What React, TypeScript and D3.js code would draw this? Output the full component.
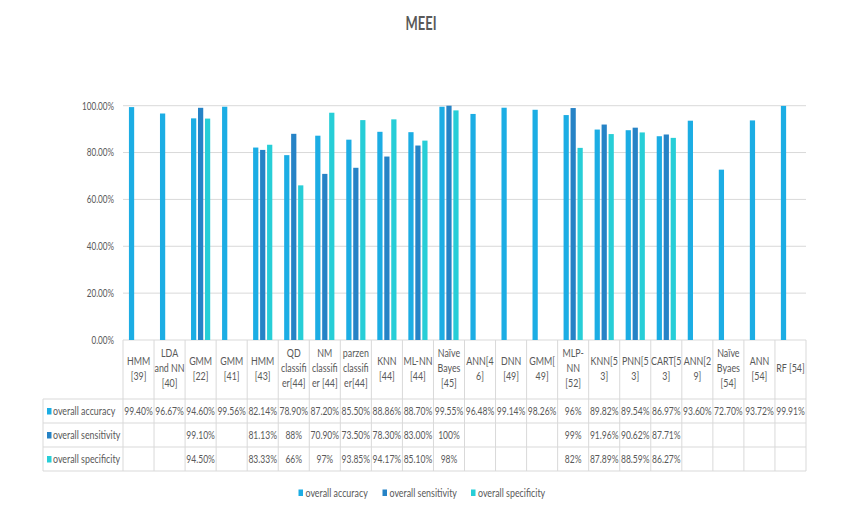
import React from 'react';
import * as d3 from 'd3';

// header text of each table column, one entry per line
const categories: string[][] = [
  ['HMM', '[39]'],
  ['LDA', 'and NN', '[40]'],
  ['GMM', '[22]'],
  ['GMM', '[41]'],
  ['HMM', '[43]'],
  ['QD', 'classifi', 'er[44]'],
  ['NM', 'classifi', 'er [44]'],
  ['parzen', 'classifi', 'er[44]'],
  ['KNN', '[44]'],
  ['ML-NN', '[44]'],
  ['Naïve', 'Bayes', '[45]'],
  ['ANN[4', '6]'],
  ['DNN', '[49]'],
  ['GMM[', '49]'],
  ['MLP-', 'NN', '[52]'],
  ['KNN[5', '3]'],
  ['PNN[5', '3]'],
  ['CART[5', '3]'],
  ['ANN[2', '9]'],
  ['Naïve', 'Byaes', '[54]'],
  ['ANN', '[54]'],
  ['RF [54]'],
];

const accuracy = [
  '99.40%', '96.67%', '94.60%', '99.56%', '82.14%', '78.90%', '87.20%', '85.50%', '88.86%', '88.70%', '99.55%',
  '96.48%', '99.14%', '98.26%', '96%', '89.82%', '89.54%', '86.97%', '93.60%', '72.70%', '93.72%', '99.91%',
];
const sensitivity = [
  '', '', '99.10%', '', '81.13%', '88%', '70.90%', '73.50%', '78.30%', '83.00%', '100%',
  '', '', '', '99%', '91.96%', '90.62%', '87.71%', '', '', '', '',
];
const specificity = [
  '', '', '94.50%', '', '83.33%', '66%', '97%', '93.85%', '94.17%', '85.10%', '98%',
  '', '', '', '82%', '87.89%', '88.59%', '86.27%', '', '', '', '',
];

const seriesNames = ['overall accuracy', 'overall sensitivity', 'overall specificity'];
const seriesColors = ['#1CADE4', '#2683C6', '#27CED7'];
const yTicks = [0, 0.2, 0.4, 0.6, 0.8, 1];

const FONT = "Lato, 'Open Sans', sans-serif";
const TEXT = '#595959';
const GRID = '#D9D9D9';
const SX = 0.74; // the source font is a narrow one

// narrow text: squeeze horizontally around the anchor point
const T: React.FC<{
  x: number;
  y: number;
  size: number;
  anchor?: 'start' | 'middle' | 'end';
  bold?: boolean;
  sx?: number;
  children: React.ReactNode;
}> = ({ x, y, size, anchor = 'start', bold, sx = SX, children }) => (
  <text
    transform={`translate(${x},${y}) scale(${sx},1)`}
    dy="0.35em"
    textAnchor={anchor}
    fontSize={size}
    fontWeight={bold ? 'bold' : 'normal'}
    fill={TEXT}
  >
    {children}
  </text>
);

const App: React.FC = () => {
  const width = 849;
  const height = 515;
  const left = 123;
  const right = 806;
  const top = 105.7;
  const bottom = 340;
  const headerBottom = 399;
  const rowH = 24;
  const labelLeft = 43;

  const series = [accuracy, sensitivity, specificity];
  const keys = categories.map((_, i) => String(i));

  const x = d3.scaleBand<string>().domain(keys).range([left, right]);
  const bw = x.bandwidth();
  const xSub = d3
    .scaleBand<string>()
    .domain(seriesNames)
    .range([0, bw])
    .paddingInner(0.25)
    .paddingOuter(0.85);
  const y = d3.scaleLinear().domain([0, 1]).range([bottom, top]);
  const fmt = d3.format('.2%');

  const tableBottom = headerBottom + rowH * 3;

  return (
    <svg
      width={width}
      height={height}
      style={{ position: 'absolute', left: 0, top: 0, background: '#fff' }}
      fontFamily={FONT}
    >
      <rect width={width} height={height} fill="#fff" />
      <T x={421} y={24} size={18} anchor="middle" bold sx={0.72}>
        MEEI
      </T>

      {/* gridlines + y axis labels */}
      {yTicks.map((t) => (
        <g key={t}>
          <line x1={left} x2={right} y1={y(t)} y2={y(t)} stroke={GRID} strokeWidth={1} />
          <T x={114} y={y(t)} size={11} anchor="end">
            {fmt(t)}
          </T>
        </g>
      ))}

      {/* bars */}
      {series.map((vals, s) =>
        vals.map((v, i) =>
          v === '' ? null : (
            <rect
              key={`${s}-${i}`}
              x={x(keys[i])! + xSub(seriesNames[s])!}
              y={y(parseFloat(v) / 100)}
              width={xSub.bandwidth()}
              height={bottom - y(parseFloat(v) / 100)}
              fill={seriesColors[s]}
            />
          )
        )
      )}

      {/* data table */}
      <g stroke={GRID} strokeWidth={1}>
        {keys.map((k) => (
          <line key={k} x1={x(k)!} x2={x(k)!} y1={bottom} y2={tableBottom} />
        ))}
        <line x1={right} x2={right} y1={bottom} y2={tableBottom} />
        <line x1={labelLeft} x2={labelLeft} y1={headerBottom} y2={tableBottom} />
        {[0, 1, 2, 3].map((r) => (
          <line
            key={r}
            x1={labelLeft}
            x2={right}
            y1={headerBottom + r * rowH}
            y2={headerBottom + r * rowH}
          />
        ))}
      </g>

      {categories.map((lines, i) => {
        const cx = x(keys[i])! + bw / 2;
        const lh = 15;
        const mid = (bottom + headerBottom) / 2 - 1.5;
        const start = mid - ((lines.length - 1) * lh) / 2;
        return (
          <g key={i}>
            {lines.map((ln, j) => (
              <T key={j} x={cx} y={start + j * lh} size={12} anchor="middle">
                {ln}
              </T>
            ))}
          </g>
        );
      })}

      {series.map((vals, s) => {
        const cy = headerBottom + s * rowH + rowH / 2;
        return (
          <g key={s}>
            <rect x={labelLeft + 4} y={cy - 3} width={4.5} height={6.5} fill={seriesColors[s]} />
            <T x={labelLeft + 10} y={cy} size={12}>
              {seriesNames[s]}
            </T>
            {vals.map((v, i) => (
              <T key={i} x={x(keys[i])! + bw / 2} y={cy} size={11.5} anchor="middle">
                {v}
              </T>
            ))}
          </g>
        );
      })}

      {/* legend */}
      {seriesNames.map((name, s) => {
        const lx = [298.5, 382.5, 471][s];
        return (
          <g key={name}>
            <rect x={lx} y={489.5} width={4.5} height={6.5} fill={seriesColors[s]} />
            <T x={lx + 7} y={492.5} size={12}>
              {name}
            </T>
          </g>
        );
      })}
    </svg>
  );
};

export default App;
